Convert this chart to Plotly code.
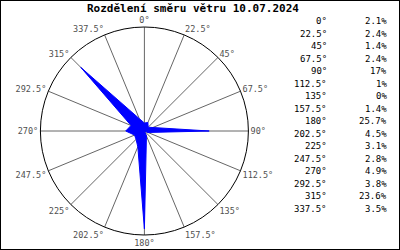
import plotly.graph_objects as go

directions = [0, 22.5, 45, 67.5, 90, 112.5, 135, 157.5, 180, 202.5, 225, 247.5, 270, 292.5, 315, 337.5]
shares = [2.1, 2.4, 1.4, 2.4, 17, 1, 0, 1.4, 25.7, 4.5, 3.1, 2.8, 4.9, 3.8, 23.6, 3.5]
title_text = "Rozdělení směru větru 10.07.2024"

W, H = 400, 250
cx, cy, R = 144.4, 131, 104
r_max = 27.3
mono = "DejaVu Sans Mono"

fig = go.Figure()
fig.add_trace(go.Scatterpolar(
    r=shares + [shares[0]],
    theta=directions + [directions[0]],
    mode="lines",
    fill="toself",
    fillcolor="#0000ff",
    line=dict(color="#0000ff", width=1),
    hoverinfo="skip",
))

ann = [dict(text="<b>" + title_text + "</b>", xref="paper", yref="paper",
            x=193 / W, y=1 - 8 / H, xanchor="center", yanchor="middle",
            showarrow=False, font=dict(family=mono, size=11, color="black"))]
for i, (d, s) in enumerate(zip(directions, shares)):
    yy = 1 - (21 + i * 12.53) / H
    ann.append(dict(text=f"{d:g}°", xref="paper", yref="paper", x=329 / W, y=yy,
                    xanchor="right", yanchor="middle", showarrow=False,
                    font=dict(family=mono, size=9, color="black")))
    ann.append(dict(text=f"{s:g}%", xref="paper", yref="paper", x=389 / W, y=yy,
                    xanchor="right", yanchor="middle", showarrow=False,
                    font=dict(family=mono, size=9, color="black")))

fig.update_layout(
    width=W, height=H,
    margin=dict(l=0, r=0, t=0, b=0),
    paper_bgcolor="white",
    showlegend=False,
    annotations=ann,
    shapes=[dict(type="rect", xref="paper", yref="paper", x0=0, y0=0, x1=1, y1=1,
                 line=dict(color="black", width=2))],
    polar=dict(
        domain=dict(x=[(cx - R) / W, (cx + R) / W], y=[(H - cy - R) / H, (H - cy + R) / H]),
        bgcolor="white",
        radialaxis=dict(visible=False, range=[0, r_max]),
        angularaxis=dict(
            direction="clockwise", rotation=90,
            tickmode="array", tickvals=directions,
            ticktext=[f"{d:g}°" for d in directions],
            tickfont=dict(family=mono, size=8.5, color="#505050"),
            ticks="", showgrid=True, gridcolor="#666666", gridwidth=1,
            showline=True, linecolor="black", linewidth=1,
        ),
    ),
)
fig.write_html("out.html")
